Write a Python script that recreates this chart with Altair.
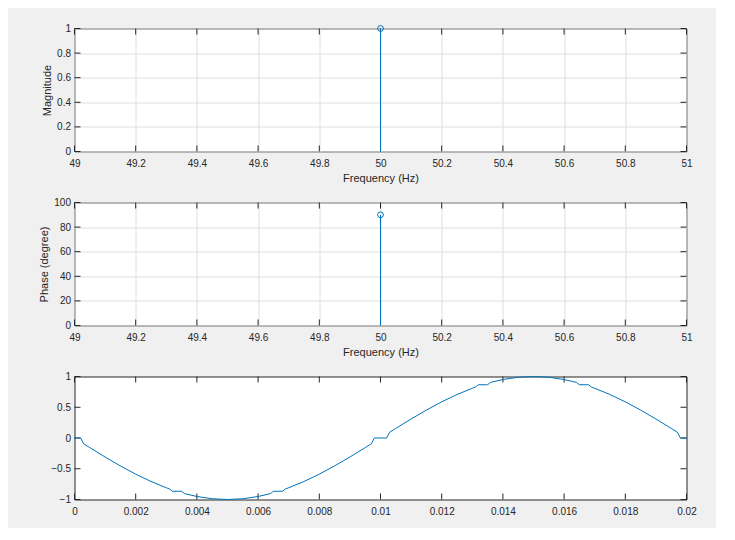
import altair as alt
import pandas as pd

# ---- data ----
mag_freq = [50.0]
mag_val = [1.0]
phase_freq = [50.0]
phase_val = [90.0]

freq_ticks = [49, 49.2, 49.4, 49.6, 49.8, 50, 50.2, 50.4, 50.6, 50.8, 51]
mag_ticks = [0, 0.2, 0.4, 0.6, 0.8, 1]
phase_ticks = [0, 20, 40, 60, 80, 100]
time_ticks = [0, 0.002, 0.004, 0.006, 0.008, 0.01, 0.012, 0.014, 0.016, 0.018, 0.02]
amp_ticks = [-1, -0.5, 0, 0.5, 1]

t_vals = [0, 0.0002, 0.0003, 0.0005, 0.0010, 0.0015, 0.0020, 0.0025, 0.0030, 0.0031,
          0.0032, 0.0035, 0.0036, 0.0040, 0.0045, 0.0050, 0.0055, 0.0060, 0.0064, 0.0065,
          0.0068, 0.0069, 0.0070, 0.0075, 0.0080, 0.0085, 0.0090, 0.0095, 0.0097, 0.0098,
          0.0102, 0.0103, 0.0105, 0.0110, 0.0115, 0.0120, 0.0125, 0.0130, 0.0131, 0.0132,
          0.0135, 0.0136, 0.0140, 0.0145, 0.0150, 0.0155, 0.0160, 0.0164, 0.0165, 0.0168,
          0.0169, 0.0170, 0.0175, 0.0180, 0.0185, 0.0190, 0.0195, 0.0197, 0.0198, 0.0200]
y_vals = [0, 0, -0.094, -0.156, -0.309, -0.454, -0.588, -0.707, -0.809, -0.827,
          -0.866, -0.866, -0.905, -0.951, -0.988, -1.0, -0.988, -0.951, -0.905, -0.866,
          -0.866, -0.827, -0.809, -0.707, -0.588, -0.454, -0.309, -0.156, -0.094, 0,
          0, 0.094, 0.156, 0.309, 0.454, 0.588, 0.707, 0.809, 0.827, 0.866,
          0.866, 0.905, 0.951, 0.988, 1.0, 0.988, 0.951, 0.905, 0.866, 0.866,
          0.827, 0.809, 0.707, 0.588, 0.454, 0.309, 0.156, 0.094, 0, 0]

W, H = 612, 123
TL = 6
BLUE = "#0072BD"
AX = "#262626"
FONT = "Liberation Sans"


def xaxis(values, title, grid):
    return alt.Axis(values=values, format="~r", grid=grid, ticks=False, domain=False,
                    labelPadding=7, labelFlush=False, title=title, titlePadding=4)


def yaxis(values, title, grid):
    return alt.Axis(values=values, format="~r", grid=grid, ticks=False, domain=False,
                    labelPadding=4, labelFlush=False, title=title, titlePadding=4)


def tick_layers(xt, yt, xs, ys, xa, ya):
    xdf = pd.DataFrame({"tx": xt})
    ydf = pd.DataFrame({"ty": yt})
    xenc = alt.X("tx:Q", scale=xs, axis=xa)
    yenc = alt.Y("ty:Q", scale=ys, axis=ya)
    b = alt.Chart(xdf).mark_rule(color=AX, strokeWidth=1).encode(
        x=xenc, y=alt.value(H), y2=alt.value(H - TL))
    t = alt.Chart(xdf).mark_rule(color=AX, strokeWidth=1).encode(
        x=xenc, y=alt.value(0), y2=alt.value(TL))
    l = alt.Chart(ydf).mark_rule(color=AX, strokeWidth=1).encode(
        y=yenc, x=alt.value(0), x2=alt.value(TL))
    r = alt.Chart(ydf).mark_rule(color=AX, strokeWidth=1).encode(
        y=yenc, x=alt.value(W - TL), x2=alt.value(W))
    return [b, t, l, r]


def stem_panel(fx, fy, ydom, yticks, ytitle):
    df = pd.DataFrame({"f": fx, "v": fy})
    xs = alt.Scale(domain=[49, 51], nice=False, zero=False)
    ys = alt.Scale(domain=ydom, nice=False)
    xa = xaxis(freq_ticks, "Frequency (Hz)", True)
    ya = yaxis(yticks, ytitle, True)
    rule = alt.Chart(df).mark_rule(color=BLUE, strokeWidth=1).encode(
        x=alt.X("f:Q", scale=xs, axis=xa),
        y=alt.Y("v:Q", scale=ys, axis=ya),
        y2=alt.datum(0),
    )
    pt = alt.Chart(df).mark_point(shape="circle", filled=False, color=BLUE, size=34,
                                  strokeWidth=1, opacity=1).encode(
        x=alt.X("f:Q", scale=xs, axis=xa), y=alt.Y("v:Q", scale=ys, axis=ya))
    return alt.layer(*tick_layers(freq_ticks, yticks, xs, ys, xa, ya), rule, pt).properties(
        width=W, height=H)


p1 = stem_panel(mag_freq, mag_val, [0, 1], mag_ticks, "Magnitude")
p2 = stem_panel(phase_freq, phase_val, [0, 100], phase_ticks, "Phase (degree)")

wave_df = pd.DataFrame({"t": t_vals, "y": y_vals})
xs3 = alt.Scale(domain=[0, 0.02], nice=False, zero=False)
ys3 = alt.Scale(domain=[-1, 1], nice=False)
xa3 = xaxis(time_ticks, None, False)
ya3 = yaxis(amp_ticks, None, False)
line = alt.Chart(wave_df).mark_line(color=BLUE, strokeWidth=1).encode(
    x=alt.X("t:Q", scale=xs3, axis=xa3),
    y=alt.Y("y:Q", scale=ys3, axis=ya3),
    order="t:Q",
)
p3 = alt.layer(*tick_layers(time_ticks, amp_ticks, xs3, ys3, xa3, ya3), line).properties(
    width=W, height=H)

chart = alt.vconcat(p1, p2, p3, spacing=51, bounds="flush").properties(
    background="#f0f0f0",
    padding={"left": 29.5, "top": 14.5, "right": 18, "bottom": 10},
).configure_view(
    fill="white", stroke=AX, strokeWidth=1
).configure_axis(
    labelFont=FONT, labelFontSize=10, labelColor=AX,
    titleFont=FONT, titleFontSize=11, titleFontWeight="normal", titleColor=AX,
    gridColor="#dedede", gridWidth=1, gridOpacity=1,
)

chart.save("out.html", embed_options={"renderer": "svg", "actions": False})
